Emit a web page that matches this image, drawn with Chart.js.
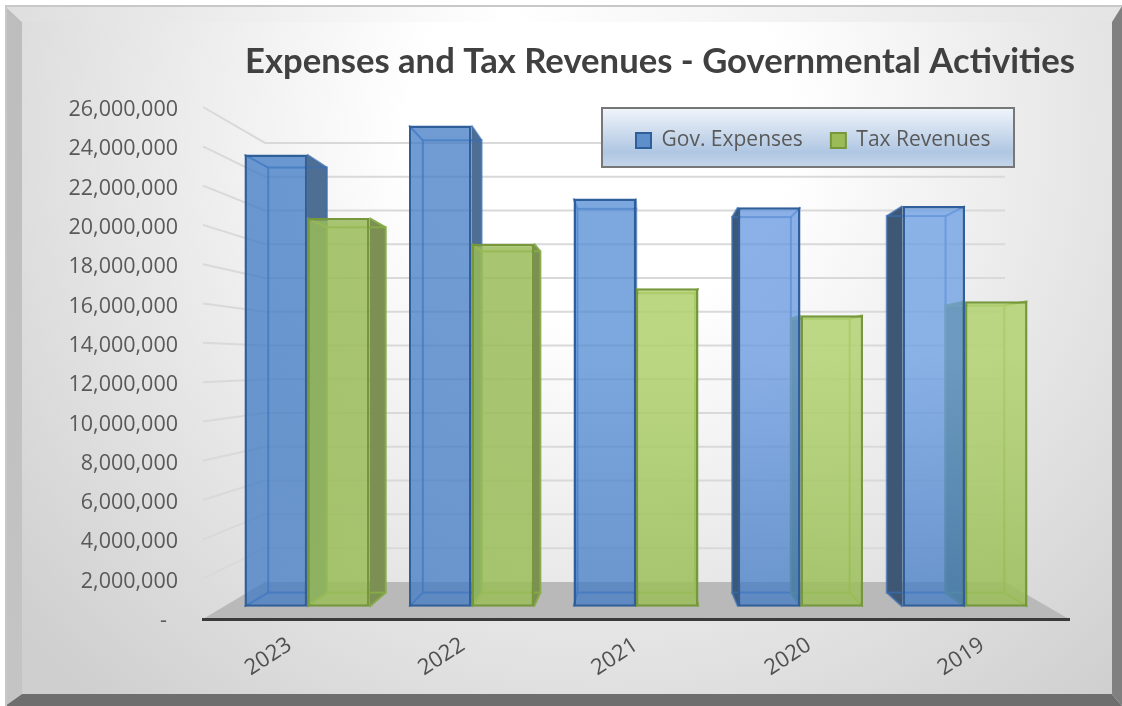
<!DOCTYPE html>
<html>
<head>
<meta charset="utf-8">
<style>html,body{margin:0;padding:0;background:#fff;overflow:hidden}canvas{display:block}</style>
<script src="https://cdn.jsdelivr.net/npm/chart.js@4"></script>
</head>
<body>
<canvas id="c" width="1122" height="706"></canvas>
<script>
const categories = ['2023', '2022', '2021', '2020', '2019'];
const govExpenses = [24180000, 25730000, 21830000, 21360000, 21420000];
const taxRevenues = [20780000, 19410000, 17030000, 15580000, 16330000];
const axisValues = [0, 2000000, 4000000, 6000000, 8000000, 10000000, 12000000, 14000000, 16000000, 18000000, 20000000, 22000000, 24000000, 26000000];
const chartTitle = 'Expenses and Tax Revenues - Governmental Activities';
const seriesNames = ['Gov. Expenses', 'Tax Revenues'];

const PERSPECTIVE = { k: 0.94, vx: 640, vy: 372 };
const project = (x, y) => [
  PERSPECTIVE.vx + (x - PERSPECTIVE.vx) * PERSPECTIVE.k,
  PERSPECTIVE.vy + (y - PERSPECTIVE.vy) * PERSPECTIVE.k
];
const BLUE_TOP = ['rgba(60,120,195,.75)', 'rgba(64,121,196,.75)', 'rgba(81,139,212,.75)', 'rgba(100,150,224,.75)', 'rgba(104,157,228,.75)'];
const GREEN_TOP = ['rgba(153,187,88,.85)', 'rgba(153,187,88,.85)', 'rgba(175,208,108,.85)', 'rgba(178,210,113,.85)', 'rgba(178,210,113,.85)'];
const SERIES_STYLE = [
  { top: BLUE_TOP, bottom: 'rgba(64,121,196,.75)', edge: '#2f5f9b', inner: 'rgba(58,110,178,.7)', sideRight: '#4f6e94', sideLeft: '#3d5774' },
  { top: GREEN_TOP, bottom: 'rgba(154,190,88,.85)', edge: '#76983a', inner: 'rgba(135,172,72,.95)', sideRight: '#7b9052', sideLeft: '#788f52' }
];

function poly(ctx, pts, fill) {
  ctx.beginPath();
  pts.forEach((p, i) => i ? ctx.lineTo(p[0], p[1]) : ctx.moveTo(p[0], p[1]));
  ctx.closePath();
  ctx.fillStyle = fill;
  ctx.fill();
}
function barFill(seriesIndex) {
  return (c) => {
    const s = SERIES_STYLE[seriesIndex];
    const i = c.dataIndex === undefined ? 0 : c.dataIndex;
    const g = c.chart.ctx.createLinearGradient(0, 150, 0, 606);
    g.addColorStop(0, s.top[i]);
    g.addColorStop(0.45, s.top[i]);
    g.addColorStop(1, s.bottom);
    return g;
  };
}

const scene = {
  id: 'scene',
  beforeLayout(chart) {
    const lg = chart.legend;
    if (lg && !lg._wrapped) {
      const f = lg.fit;
      lg.fit = function () { f.call(this); this.height = 0; };
      lg._wrapped = true;
    }
  },
  afterLayout(chart) {
    const p = chart.options.plugins.legend.labels.padding;
    chart.legend.left = 636 - p;
    chart.legend.right = 1122;
    chart.legend.top = 130 - p;
    chart.legend.bottom = 160;
    chart.titleBlock.left = 245;
    chart.titleBlock.right = 1075;
  },
  beforeDraw(chart) {
    const ctx = chart.ctx;
    ctx.save();
    // frame
    const g = ctx.createRadialGradient(600, 130, 0, 600, 130, 760);
    g.addColorStop(0, '#ffffff');
    g.addColorStop(0.25, '#ffffff');
    g.addColorStop(1, '#cfcfcf');
    ctx.fillStyle = g;
    ctx.fillRect(22, 22, 1090, 672);
    const t = ctx.createLinearGradient(5, 0, 1122, 0);
    t.addColorStop(0, '#dedede'); t.addColorStop(0.45, '#ffffff'); t.addColorStop(1, '#e4e4e4');
    poly(ctx, [[5, 6], [1122, 6], [1112, 22], [22, 22]], t);
    const l = ctx.createLinearGradient(0, 6, 0, 706);
    l.addColorStop(0, '#bdbdbd'); l.addColorStop(1, '#c4c4c4');
    poly(ctx, [[5, 6], [22, 22], [22, 694], [5, 706]], l);
    poly(ctx, [[1122, 6], [1122, 706], [1112, 694], [1112, 22]], '#808080');
    poly(ctx, [[5, 706], [22, 694], [1112, 694], [1122, 706]], '#6e6e6e');
    ctx.fillStyle = '#c8c8c8';
    ctx.fillRect(5, 5, 1117, 2);
    ctx.fillRect(5, 5, 2, 701);

    // floor and walls, from the visible axes
    const a = chart.chartArea, y = chart.scales.y;
    const backX = x => 265 + (x - a.left) * (740 / (a.right - a.left));
    const backY = v => 0.859 * v + 50.2;
    const bl = backX(a.left), br = backX(a.right), by0 = backY(a.bottom);
    poly(ctx, [[bl, by0], [br, by0], [a.right, a.bottom], [a.left, a.bottom]], '#b9b9b9');
    ctx.strokeStyle = '#d9d9d9';
    ctx.lineWidth = 2;
    y.ticks.forEach(tk => {
      if (!tk.value) return;
      const py = y.getPixelForValue(tk.value), pb = backY(py - 2);
      ctx.beginPath();
      ctx.moveTo(a.left, py - 3);
      ctx.lineTo(bl, pb);
      ctx.lineTo(br, pb);
      ctx.stroke();
    });

    // legend panel
    const lgx = 602, lgy = 108, lgw = 412, lgh = 59;
    const lp = ctx.createLinearGradient(0, lgy, 0, lgy + lgh);
    lp.addColorStop(0, '#f1f5fb');
    lp.addColorStop(0.75, '#afc6e2');
    lp.addColorStop(1, '#c6d6ea');
    ctx.fillStyle = lp;
    ctx.fillRect(lgx, lgy, lgw, lgh);
    ctx.strokeStyle = '#777777';
    ctx.lineWidth = 2;
    ctx.strokeRect(lgx, lgy, lgw, lgh);
    ctx.restore();
  },
  beforeDatasetsDraw(chart) {
    const ctx = chart.ctx;
    ctx.save();
    chart.data.datasets.forEach((ds, si) => {
      const s = SERIES_STYLE[si];
      chart.getDatasetMeta(si).data.forEach(b => {
        const L = b.x - b.width / 2, R = b.x + b.width / 2, T = b.y, B = b.base;
        const [bL, bT] = project(L, T), [bR, bB] = project(R, B);
        if (R < PERSPECTIVE.vx) {
          poly(ctx, [[R, T], [bR, bT], [bR, bB], [R, B]], s.sideRight);
        } else if (L > PERSPECTIVE.vx) {
          poly(ctx, [[L, T], [bL, bT], [bL, bB], [L, B]], s.sideLeft);
        }
        ctx.strokeStyle = s.inner;
        ctx.lineWidth = 2;
        ctx.strokeRect(bL, bT, bR - bL, bB - bT);
        ctx.beginPath();
        [[L, T, bL, bT], [R, T, bR, bT], [L, B, bL, bB], [R, B, bR, bB]].forEach(q => {
          ctx.moveTo(q[0], q[1]);
          ctx.lineTo(q[2], q[3]);
        });
        ctx.stroke();
      });
    });
    ctx.restore();
  }
};

new Chart(document.getElementById('c'), {
  type: 'bar',
  data: {
    labels: categories,
    datasets: [
      {
        label: seriesNames[0],
        data: govExpenses.map((v, i) => ({ x: i, y: v })),
        xAxisID: 'xb', yAxisID: 'yb',
        backgroundColor: barFill(0),
        borderColor: SERIES_STYLE[0].edge, borderWidth: 2.5, borderSkipped: false,
        categoryPercentage: 0.76, barPercentage: 1
      },
      {
        label: seriesNames[1],
        data: taxRevenues.map((v, i) => ({ x: i, y: v })),
        xAxisID: 'xb', yAxisID: 'yb',
        backgroundColor: barFill(1),
        borderColor: SERIES_STYLE[1].edge, borderWidth: 2.5, borderSkipped: false,
        categoryPercentage: 0.76, barPercentage: 1
      }
    ]
  },
  options: {
    responsive: false,
    animation: false,
    devicePixelRatio: 1,
    layout: { padding: { left: 0, right: 53, top: 0, bottom: 0 } },
    scales: {
      x: {
        type: 'category', labels: categories, offset: true,
        grid: { display: false },
        border: { display: true, color: '#3a3a3a', width: 3 },
        ticks: { color: '#505050', font: { family: 'Open Sans', size: 22 }, minRotation: 33, maxRotation: 33, padding: 5, autoSkip: false },
        afterFit(s) { s.height = 706 - 619; }
      },
      y: {
        type: 'linear', min: 100000, max: 26100000,
        grid: { display: false },
        border: { display: false },
        afterBuildTicks(s) { s.ticks = axisValues.map(v => ({ value: v })); },
        ticks: {
          color: '#595959', padding: 17,
          font: { family: 'Open Sans', size: 21.5 },
          callback: v => v === 0 ? '-  ' : v.toLocaleString('en-US')
        },
        afterFit(s) { s.width = 203; }
      },
      xb: {
        type: 'linear', display: false, min: -0.632, max: 4.632, offset: false, grid: { display: false },
        afterBuildTicks(s) { s.ticks = categories.map((c, i) => ({ value: i })); }
      },
      yb: { type: 'linear', display: false, min: -660000, max: 26665000, grid: { display: false } }
    },
    plugins: {
      title: {
        display: true, text: chartTitle, color: '#404040', align: 'center',
        font: { family: 'Lato', size: 34.7, weight: 'bold', lineHeight: 1.2 },
        padding: { top: 41, bottom: 25.4 }
      },
      legend: {
        display: true, position: 'top', align: 'start',
        labels: {
          boxWidth: 15, boxHeight: 15, padding: 28, color: '#595959',
          font: { family: 'Open Sans', size: 21 },
          generateLabels: () => seriesNames.map((n, i) => ({
            text: n, datasetIndex: i, fontColor: '#595959', lineWidth: 2,
            fillStyle: ['#5f8fcb', '#9bbb59'][i], strokeStyle: ['#2f5f9b', '#76983a'][i]
          }))
        }
      },
      tooltip: { enabled: false }
    }
  },
  plugins: [scene]
});
</script>
</body>
</html>
